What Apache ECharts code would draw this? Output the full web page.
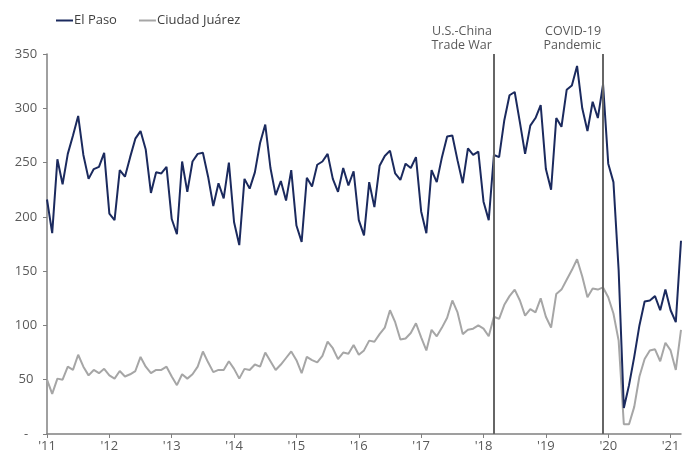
<!DOCTYPE html>
<html><head><meta charset="utf-8">
<script src="https://cdn.jsdelivr.net/npm/echarts@6/dist/echarts.min.js"></script>
<style>html,body{margin:0;padding:0;background:#fff}#c{width:689px;height:456px}</style>
</head><body><div id="c"></div>
<script>
// Monthly data, Jan 2011 - Mar 2021
var yearLabels = ["'11","'12","'13","'14","'15","'16","'17","'18","'19","'20","'21"];
var elPaso = [
 216,185,253,230,258,275,293,257,235,244,246,259,
 203,197,243,237,255,272,279,262,222,241,240,246,
 198,184,251,223,251,258,259,237,210,231,217,250,
 195,174,235,226,241,268,285,245,220,233,215,243,
 192,177,236,228,248,251,258,235,223,245,229,242,
 197,183,232,209,247,256,261,240,234,249,245,255,
 205,185,243,232,255,274,275,252,231,263,257,260,
 214,197,257,255,289,312,315,287,258,284,291,303,
 244,225,291,283,317,321,339,300,279,306,291,322,
 249,232,151,24,45,71,100,122,123,127,114,133,
 114,103,178
];
var juarez = [
 50,37,51,50,62,59,73,62,54,59,56,60,
 54,51,58,53,55,58,71,62,56,59,59,62,
 53,45,55,51,55,62,76,66,57,59,59,67,
 60,51,60,59,64,62,75,67,59,64,70,76,
 68,56,71,68,66,72,85,79,69,75,74,82,
 73,77,86,85,92,98,114,103,87,88,93,102,
 89,77,96,90,98,107,123,112,92,96,97,100,
 97,90,108,106,119,127,133,123,109,115,112,125,
 108,98,129,133,142,151,161,145,126,134,133,135,
 126,111,86,9,9,25,53,69,77,78,67,84,
 77,59,96
];
var events = [
 {month: 86, label: 'U.S.-China\nTrade War'},
 {month: 107, label: 'COVID-19\nPandemic'}
];
var categories = [];
for (var i = 0; i < elPaso.length; i++) {
  categories.push(i % 12 === 0 ? yearLabels[i / 12] : '');
}
var font = '"Open Sans", "Noto Sans", sans-serif';
var chart = echarts.init(document.getElementById('c'), null, {renderer: 'canvas'});
chart.setOption({
  animation: false,
  textStyle: {fontFamily: font},
  legend: {
    left: 51, top: 9,
    icon: 'rect', itemWidth: 17, itemHeight: 2, itemGap: 22,
    textStyle: {fontFamily: font, fontSize: 13, color: '#404040', padding: [0,0,0,-4]},
    data: ['El Paso', 'Ciudad Juárez']
  },
  grid: {left: 47, right: 8, top: 54, bottom: 22, containLabel: false},
  xAxis: {
    type: 'category', boundaryGap: false, data: categories,
    axisLine: {lineStyle: {color: '#808080', width: 1.5}},
    axisTick: {show: true, length: 4, lineStyle: {color: '#808080'},
      interval: function (i) { return i % 12 === 0; }},
    axisLabel: {interval: function (i) { return i % 12 === 0; },
      color: '#595959', fontSize: 13, fontFamily: font, margin: 6}
  },
  yAxis: {
    type: 'value', min: 0, max: 350, interval: 50,
    axisLine: {show: true, lineStyle: {color: '#808080', width: 1.5}},
    axisTick: {show: true, length: 4, inside: false, lineStyle: {color: '#808080'}},
    splitLine: {show: false},
    axisLabel: {color: '#595959', fontSize: 13, fontFamily: font, margin: 21, align: 'center',
      formatter: function (v) { return v === 0 ? '-' : v; }}
  },
  series: [
    {name: 'El Paso', type: 'line', data: elPaso, showSymbol: false, symbol: 'none',
     lineStyle: {color: '#1b2a5e', width: 2}, itemStyle: {color: '#1b2a5e'}, z: 3,
     markLine: {
       silent: true, symbol: ['none', 'none'],
       lineStyle: {color: '#666666', width: 2, type: 'solid'},
       label: {show: true, position: 'end', color: '#595959', fontSize: 12.5,
         fontFamily: font, lineHeight: 14, align: 'right', verticalAlign: 'bottom',
         offset: [-2, 0], distance: 2,
         formatter: function (p) { return events[p.dataIndex].label; }},
       data: events.map(function (e) { return {xAxis: e.month}; })
     }},
    {name: 'Ciudad Juárez', type: 'line', data: juarez, showSymbol: false, symbol: 'none',
     lineStyle: {color: '#a6a6a6', width: 2}, itemStyle: {color: '#a6a6a6'}, z: 2}
  ]
});
</script></body></html>
